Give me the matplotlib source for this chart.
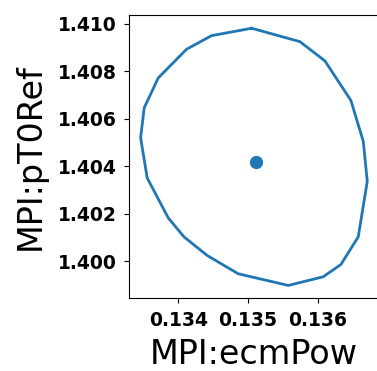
import matplotlib
matplotlib.use('Agg')
import matplotlib.pyplot as plt

# contour of the fit uncertainty region
ecm_pow = [0.135051, 0.135742, 0.136100, 0.136472, 0.136649, 0.136706, 0.136577,
           0.136329, 0.136076, 0.135575, 0.134859, 0.134415, 0.134082, 0.133857,
           0.133556, 0.133462, 0.133513, 0.133714, 0.134120, 0.134478, 0.135051]
pt0_ref = [1.409819, 1.409255, 1.408443, 1.406773, 1.405047, 1.403364, 1.401025,
           1.399859, 1.399341, 1.398975, 1.399467, 1.400237, 1.401025, 1.401824,
           1.403507, 1.405200, 1.406463, 1.407725, 1.408935, 1.409508, 1.409819]

# best-fit point
best_x = [0.135108]
best_y = [1.404181]

x_ticks = [0.134, 0.135, 0.136]
y_ticks = [1.400, 1.402, 1.404, 1.406, 1.408, 1.410]

W, H = 377, 371
fig = plt.figure(figsize=(W / 100, H / 100), dpi=100)
ax = fig.add_axes([129.3 / W, (H - 298.3) / H, (378.6 - 129.3) / W, (298.3 - 15.4) / H])

ax.plot(ecm_pow, pt0_ref, color='#1f77b4', lw=2)
ax.plot(best_x, best_y, 'o', color='#1f77b4', ms=8.5)

ax.set_xticks(x_ticks)
ax.set_yticks(y_ticks)
ax.set_xticklabels([f"{v:.3f}" for v in x_ticks], fontsize=13.5, fontweight='bold')
ax.set_yticklabels([f"{v:.3f}" for v in y_ticks], fontsize=13.5, fontweight='bold')
ax.tick_params(axis='both', pad=5.5)
ax.set_xlabel("MPI:ecmPow", fontsize=24, labelpad=6)
ax.set_ylabel("MPI:pT0Ref", fontsize=24, labelpad=8)

fig.savefig("out.png", dpi=100)
